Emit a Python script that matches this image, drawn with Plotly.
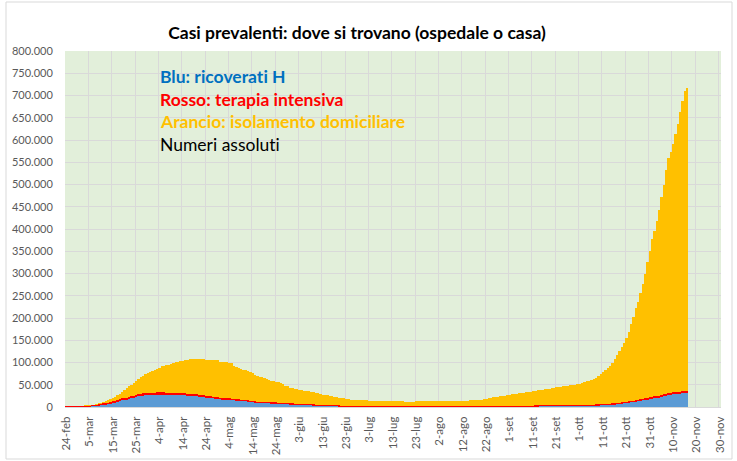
import pandas as pd
import plotly.graph_objects as go

# ---------------- data (daily, 24-feb-2020 .. 16-nov-2020) ----------------
start_date = "2020-02-24"

# totale attualmente positivi (top of the orange stack)
tot_feb = [221, 311, 385, 588, 821, 1049]
tot_mar = [1577, 1835, 2263, 2706, 3296, 3916, 5061, 6387, 7985, 8514, 10590, 12839, 14955, 17750, 20603,
           23073, 26062, 28710, 33190, 37860, 42681, 46638, 50418, 54030, 57521, 62013, 66414, 70065, 73880,
           75528, 77635]
tot_apr = [80572, 83049, 85388, 88274, 91246, 93187, 94067, 95262, 96877, 98273, 100269, 102253, 103616,
           104291, 105418, 106607, 106962, 107771, 108257, 108237, 107709, 107699, 106848, 106527, 105847,
           106103, 105813, 105205, 104657, 101551]
tot_mag = [100943, 100704, 100179, 99980, 98467, 91528, 89624, 87961, 84842, 83324, 82488, 81266, 78457,
           76440, 72070, 70187, 68351, 66553, 65129, 62752, 60960, 59322, 57752, 56594, 55300, 52942, 50966,
           47986, 46175, 43691, 42075]
tot_giu = [41367, 39893, 39297, 38429, 36976, 35877, 35262, 34730, 32872, 31710, 30637, 28997, 27485, 26274,
           25909, 24569, 23925, 22350, 21543, 20972, 20637, 19573, 18655, 17638, 16836, 16496, 15563, 15255,
           15060, 14621]
tot_lug = [14884, 14642, 14361, 14252, 14242, 13595, 13459, 13303, 13179, 12919, 12868, 12924, 12894, 12581,
           12493, 12456, 12404, 12368, 12301, 12248, 12209, 12322, 12456, 12482, 12565, 12581, 12616, 12646,
           12565, 12422, 12616]
tot_ago = [12565, 12482, 12456, 12404, 12474, 12482, 12646, 12924, 13263, 13368, 13595, 13791, 14081, 14406,
           14867, 15089, 15360, 15734, 16014, 16479, 17503, 18438, 19714, 20753, 21932, 22820, 23035, 24205,
           24954, 25753, 26754]
tot_set = [27817, 28481, 29193, 30099, 30891, 31194, 31857, 32688, 33789, 34675, 35708, 36767, 37503, 38509,
           39187, 39712, 40532, 41413, 42457, 43161, 44098, 45079, 45489, 46114, 46780, 47718, 48593, 49618,
           50323, 51263]
tot_ott = [52647, 54015, 55566, 57429, 58903, 60134, 62576, 65952, 70110, 74829, 79075, 82764, 87193, 92445,
           99266, 107312, 116935, 126237, 134003, 142739, 155442, 169302, 186002, 203182, 222241, 236684,
           255090, 276457, 299191, 325786, 351386]
tot_nov = [378129, 396512, 418142, 443235, 472348, 499118, 531536, 558636, 573334, 590110, 613358, 635054,
           663926, 688435, 710000, 717000]

# ricoverati con sintomi (blue)
ric_feb = [101, 114, 128, 248, 345, 401]
ric_mar = [639, 742, 1034, 1346, 1790, 2394, 2651, 3557, 4316, 5038, 5838, 6650, 7426, 8372, 9663, 11025,
           12894, 14363, 15757, 16020, 17708, 19846, 20692, 21937, 23112, 24753, 26029, 26676, 27386, 27795,
           28192]
ric_apr = [28403, 28540, 28741, 29010, 28949, 28976, 28718, 28485, 28399, 28242, 28144, 27847, 28023, 28011,
           27643, 26893, 26033, 25786, 25007, 24906, 24134, 23805, 22871, 22068, 21533, 21372, 20353, 19723,
           19210, 18149]
ric_mag = [17569, 17357, 17242, 16823, 16270, 15769, 15174, 14636, 13834, 13618, 13539, 12865, 12172, 11453,
           10792, 10400, 10311, 10207, 9991, 9624, 9269, 8957, 8695, 8613, 8185, 7917, 7729, 7379, 7094, 6680,
           6387]
ric_giu = [6021, 5916, 5742, 5301, 5002, 4864, 4729, 4581, 4320, 4131, 3893, 3747, 3301, 3027, 2942, 2733,
           2638, 2474, 2280, 2155, 2069, 1973, 1842, 1713, 1571, 1489, 1282, 1199, 1150, 1081]
ric_lug = [1025, 1001, 991, 976, 964, 945, 904, 851, 827, 815, 787, 764, 769, 756, 749, 732, 727, 717, 715,
           713, 701, 731, 732, 749, 745, 737, 720, 727, 734, 756, 762]
ric_ago = [762, 760, 774, 765, 777, 780, 796, 769, 757, 779, 777, 795, 817, 802, 828, 843, 871, 886, 899, 925,
           961, 960, 1021, 1045, 1060, 1093, 1108, 1133, 1178, 1236, 1288]
ric_set = [1337, 1380, 1443, 1517, 1610, 1633, 1760, 1836, 1910, 1951, 2043, 2122, 2222, 2285, 2380, 2437,
           2476, 2513, 2604, 2658, 2746, 2784, 2822, 2846, 2882, 2911, 2967, 3047, 3097, 3166]
ric_ott = [3211, 3287, 3400, 3487, 3625, 3782, 3925, 4086, 4336, 4519, 4821, 5076, 5470, 5796, 6178, 6694,
           7131, 7676, 8454, 9057, 9694, 10549, 11287, 12006, 12997, 13955, 14981, 15964, 16994, 17966, 18902]
ric_nov = [19840, 21114, 21937, 22116, 24005, 25109, 26440, 27636, 28633, 29444, 30081, 30914, 31398, 32047,
           32536, 33074]

# terapia intensiva (red)
ti_feb = [26, 35, 36, 56, 64, 105]
ti_mar = [140, 166, 229, 295, 351, 462, 567, 650, 733, 877, 1028, 1153, 1328, 1518, 1672, 1851, 2060, 2257,
          2498, 2655, 2857, 3009, 3204, 3396, 3489, 3612, 3732, 3856, 3906, 3981, 4023]
ti_apr = [4035, 4053, 4068, 3994, 3977, 3898, 3792, 3693, 3605, 3497, 3381, 3343, 3260, 3186, 3079, 2936,
          2812, 2733, 2635, 2573, 2471, 2384, 2267, 2173, 2102, 2009, 1956, 1863, 1795, 1694]
ti_mag = [1578, 1539, 1501, 1479, 1427, 1333, 1311, 1168, 1034, 1027, 999, 952, 893, 855, 808, 775, 762, 749,
          716, 676, 640, 595, 572, 553, 541, 521, 505, 489, 475, 450, 435]
ti_giu = [424, 408, 353, 338, 316, 293, 287, 283, 263, 249, 236, 227, 220, 209, 207, 178, 168, 163, 161, 152,
          148, 127, 115, 107, 103, 100, 94, 87, 89, 87]
ti_lug = [82, 77, 74, 72, 71, 69, 67, 66, 65, 65, 64, 65, 62, 60, 58, 54, 54, 49, 49, 48, 48, 49, 48, 47, 46,
          44, 43, 40, 41, 42, 41]
ti_ago = [41, 41, 42, 41, 41, 42, 43, 45, 47, 45, 49, 53, 55, 56, 55, 58, 58, 60, 64, 66, 68, 69, 69, 69, 65,
          66, 67, 69, 79, 86, 94]
ti_set = [107, 109, 120, 133, 142, 143, 150, 164, 174, 182, 187, 194, 201, 207, 201, 208, 215, 222, 220, 228,
          239, 244, 238, 244, 246, 247, 254, 271, 280, 291]
ti_ott = [297, 303, 319, 323, 337, 358, 390, 420, 452, 514, 539, 586, 638, 705, 750, 797, 870, 926, 992, 1049,
          1128, 1208, 1284, 1411, 1536, 1651, 1746, 1843, 1939, 2022, 2099]
ti_nov = [2225, 2292, 2391, 2515, 2634, 2749, 2849, 2971, 3081, 3170, 3230, 3306, 3422, 3492, 3612, 3670]

totale = tot_feb + tot_mar + tot_apr + tot_mag + tot_giu + tot_lug + tot_ago + tot_set + tot_ott + tot_nov
ricoverati = ric_feb + ric_mar + ric_apr + ric_mag + ric_giu + ric_lug + ric_ago + ric_set + ric_ott + ric_nov
intensiva = ti_feb + ti_mar + ti_apr + ti_mag + ti_giu + ti_lug + ti_ago + ti_set + ti_ott + ti_nov

dates = pd.date_range(start_date, periods=len(totale), freq="D")

x_tick_labels = ["24-feb", "5-mar", "15-mar", "25-mar", "4-apr", "14-apr", "24-apr", "4-mag", "14-mag",
                 "24-mag", "3-giu", "13-giu", "23-giu", "3-lug", "13-lug", "23-lug", "2-ago", "12-ago",
                 "22-ago", "1-set", "11-set", "21-set", "1-ott", "11-ott", "21-ott", "31-ott", "10-nov",
                 "20-nov", "30-nov"]
y_tick_values = [0, 50000, 100000, 150000, 200000, 250000, 300000, 350000, 400000, 450000, 500000, 550000,
                 600000, 650000, 700000, 750000, 800000]
y_tick_labels = ["0", "50.000", "100.000", "150.000", "200.000", "250.000", "300.000", "350.000", "400.000",
                 "450.000", "500.000", "550.000", "600.000", "650.000", "700.000", "750.000", "800.000"]

tick_dates = pd.date_range(start_date, periods=len(x_tick_labels), freq="10D")
grid_dates = tick_dates - pd.Timedelta(hours=12)

# ---------------- figure ----------------
W, H = 737, 461
L, R, T, B = 65, 16, 51, 54
PW, PH = W - L - R, H - T - B


def px(x):
    return (x - L) / PW


def py(y):
    return (H - B - y) / PH


BG = "#E2EFDA"
GRID = "#D9D9D9"
FONT = "Lato"
ZWNJ = "\u200c"  # avoids the 'ti' ligature of Lato

fig = go.Figure()
fig.add_trace(go.Bar(x=dates, y=totale, marker=dict(color="#FFC000", line=dict(width=0)),
                     name="Isolamento domiciliare"))
fig.add_trace(go.Bar(x=dates, y=ricoverati, marker=dict(color="#5B9BD5", line=dict(width=0)),
                     name="Ricoverati con sintomi"))
fig.add_trace(go.Bar(x=dates, y=intensiva, base=ricoverati, marker=dict(color="#FF0000", line=dict(width=0)),
                     name="Terapia intensiva"))

fig.update_layout(
    width=W, height=H,
    margin=dict(l=L, r=R, t=T, b=B, autoexpand=False),
    paper_bgcolor="white",
    plot_bgcolor=BG,
    barmode="overlay",
    bargap=0,
    showlegend=False,
    font=dict(family=FONT, color="#595959", size=11),
    title=dict(text="<b>Casi prevalenti: dove si trovano (ospedale o casa)</b>",
               x=357 / W, xanchor="center", xref="container", y=1 - 33 / H, yanchor="middle",
               font=dict(family=FONT, size=17.5, color="black")),
)

fig.update_xaxes(
    type="date", automargin=False,
    range=[dates[0] - pd.Timedelta(hours=12), tick_dates[-1] + pd.Timedelta(hours=12)],
    tickmode="array", tickvals=tick_dates, ticktext=x_tick_labels,
    tickangle=-90, showgrid=False,
    ticks="outside", ticklen=4, tickcolor="rgba(0,0,0,0)",
    tickfont=dict(size=11.5, color="#595959"),
    showline=True, linecolor=GRID, linewidth=1,
    minor=dict(tickmode="array", tickvals=grid_dates, showgrid=True, gridcolor=GRID, gridwidth=1.3),
    zeroline=False,
)
fig.update_yaxes(
    range=[0, 800000], automargin=False,
    tickmode="array", tickvals=y_tick_values, ticktext=y_tick_labels,
    showgrid=True, gridcolor=GRID, gridwidth=1.3,
    ticks="outside", ticklen=9, tickcolor="rgba(0,0,0,0)",
    tickfont=dict(size=11, color="#595959"),
    zeroline=False, showline=False,
)

# text box (covers gridlines)
fig.add_shape(type="rect", xref="paper", yref="paper", x0=px(149), x1=px(416), y0=py(192), y1=py(57),
              fillcolor=BG, line=dict(width=0), layer="between")
# outer chart border
fig.add_shape(type="rect", xref="paper", yref="paper", x0=px(6), x1=px(732), y0=py(459), y1=py(2),
              fillcolor="rgba(0,0,0,0)", line=dict(color=GRID, width=1), layer="above")

box_lines = [
    ("<b>Blu: ricoverat" + ZWNJ + "i H</b>", "#0070C0", 76.7),
    ("<b>Rosso: t" + ZWNJ + "erapia intensiva</b>", "#FF0000", 99.2),
    ("<b>Arancio: isolamento domiciliare</b>", "#FFC000", 121.7),
    ("Numeri assolut" + ZWNJ + "i", "#000000", 144.2),
]
for txt, col, yy in box_lines:
    fig.add_annotation(text=txt, xref="paper", yref="paper", x=px(158), y=py(yy),
                       xanchor="left", yanchor="middle", showarrow=False,
                       font=dict(family=FONT, size=17.5, color=col))

fig.write_html("out.html", config={"displayModeBar": False},
               post_script="document.body.style.margin='0px';")
